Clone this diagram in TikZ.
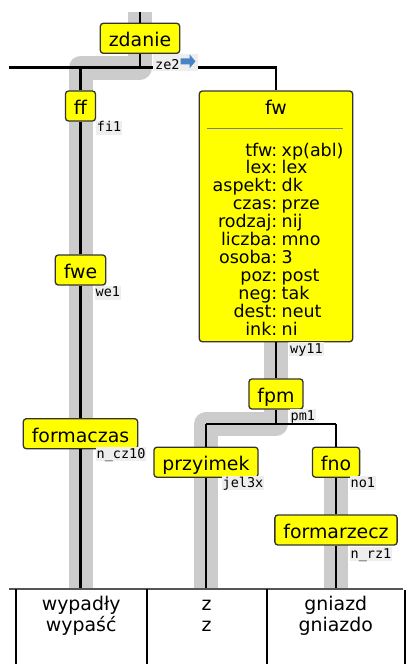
\documentclass[tikz,border=0pt]{standalone}
\usepackage{fontspec}
\setmainfont{DejaVu Sans}
\setmonofont{DejaVu Sans Mono}
\definecolor{hlgray}{RGB}{204,204,204}
\definecolor{boxy}{RGB}{255,255,0}
\definecolor{boxb}{RGB}{51,51,51}
\definecolor{sepc}{RGB}{120,130,160}
\definecolor{lblbg}{RGB}{238,238,238}
\definecolor{arrb}{RGB}{74,130,198}
\definecolor{tline}{RGB}{85,85,85}
\newcommand\tfont{\fontsize{18.9}{20}\selectfont}
\newcommand\ffont{\fontsize{17.5}{18}\selectfont}
\newcommand\lfont{\ttfamily\fontsize{13.5}{14}\selectfont}
\begin{document}
\begin{tikzpicture}[x=1pt,y=-1pt,
 band/.style={line width=24pt, draw=hlgray, line join=round},
 edge/.style={line width=2.4pt, draw=black},
 cat/.style={draw=boxb, fill=boxy, line width=1.3pt, rounded corners=3pt, font=\tfont, minimum height=30pt, inner ysep=0pt, inner xsep=8.5pt, text height=16.8pt, text depth=0pt},
 lbl/.style={font=\lfont, fill=lblbg, inner xsep=1pt, inner ysep=1pt, anchor=base west, text height=10pt, text depth=2pt},
 fk/.style={font=\ffont, anchor=base east, inner sep=0pt},
 fv/.style={font=\ffont, anchor=base west, inner sep=0pt},
 wd/.style={font=\tfont, anchor=base, inner sep=0pt},
 tab/.style={line width=2.2pt, draw=black}]
\useasboundingbox (0,0) rectangle (408,664);

% coordinates
\coordinate (top) at (140,12);
\coordinate (j1) at (140,67.5);
\coordinate (hl) at (9,67.5);
\coordinate (jff) at (80.5,67.5);
\coordinate (hr) at (276,67.5);
\coordinate (j2) at (276,424);
\coordinate (jp) at (206,424);
\coordinate (jn) at (336,424);
\coordinate (b1) at (80.5,589.3);
\coordinate (b2) at (206,589.3);
\coordinate (b3) at (336,589.3);

% highlight bands
\draw[band] (top) -- (j1) -- (jff) -- (b1);
\draw[band] (276,341.7) -- (j2) -- (jp) -- (b2);
\draw[band] (336,476.7) -- (b3);

% nodes
\node[cat] (zdanie) at (140,38.3) {zdanie};
\node[cat] (ff) at (80.5,106) {ff};
\node[cat] (fwe) at (80.5,270) {fwe};
\node[cat] (formaczas) at (80.5,433.7) {formaczas};
\node[draw=boxb, fill=boxy, line width=1.3pt, rounded corners=3pt, minimum width=153.4pt, minimum height=250.7pt, inner sep=0pt] (fw) at (276,216.35) {};
\node[cat] (fpm) at (276,394) {fpm};
\node[cat] (przyimek) at (206,462.2) {przyimek};
\node[cat] (fno) at (336,462.2) {fno};
\node[cat] (formarzecz) at (336,530) {formarzecz};

% edges
\draw[edge] (top) -- (zdanie.north);
\draw[edge] (zdanie.south) -- (j1);
\draw[edge] (hl) -- (hr) -- (fw.north);
\draw[edge] (jff) -- (ff.north);
\draw[edge] (ff.south) -- (fwe.north);
\draw[edge] (fwe.south) -- (formaczas.north);
\draw[edge] (formaczas.south) -- (b1);
\draw[edge] (fw.south) -- (fpm.north);
\draw[edge] (fpm.south) -- (j2);
\draw[edge] (jp) -- (jn);
\draw[edge] (jp) -- (przyimek.north);
\draw[edge] (jn) -- (fno.north);
\draw[edge] (przyimek.south) -- (b2);
\draw[edge] (fno.south) -- (formarzecz.north);
\draw[edge] (formarzecz.south) -- (b3);

% fw contents
\node[wd] (fwt) at (276,114) {fw};
\draw[sepc, line width=1.2pt] (207.3,128.3) -- (343.3,128.3);
\foreach \k/\v [count=\i from 0] in {tfw/xp(abl), lex/lex, aspekt/dk, czas/prze, rodzaj/nij, liczba/mno, osoba/3, poz/post, neg/tak, dest/neut, ink/ni}{
  \node[fk] at (277.5,{156+\i*17.93}) {\k:};
  \node[fv] at (281.5,{156+\i*17.93}) {\v};
}

% labels
\fill[lblbg] (153,54) rectangle (198,71);
\node[lbl, fill=none] (lze2) at (154,69) {ze2};
\fill[arrb] (180.7,58.3) -- (189.5,58.3) -- (189.5,54.3) -- (195.5,61.3) -- (189.5,68.3) -- (189.5,64.3) -- (180.7,64.3) -- cycle;
\node[lbl] (lfi1) at (95.7,131.7) {fi1};
\node[lbl] (lwe1) at (94.5,296.7) {we1};
\node[lbl] (lwy11) at (289,353) {wy11};
\node[lbl, text depth=1pt] (lpm1) at (289.5,420) {pm1};
\node[lbl] (lncz) at (95.5,458) {n\_cz10};
\node[lbl] (ljel) at (221.5,487) {jel3x};
\node[lbl] (lno1) at (349.5,487) {no1};
\node[lbl] (lnrz) at (349.5,558) {n\_rz1};

% bottom table
\draw[line width=2pt, draw=tline] (9,589.3) -- (403,589.3);
\draw[tab] (15.7,589.3) -- (15.7,664);
\draw[tab] (146.7,589.3) -- (146.7,664);
\draw[tab] (266.7,589.3) -- (266.7,664);
\draw[tab] (405,590) -- (405,664);
\node[wd] (w1a) at (81.2,610.7) {wypadły};
\node[wd] (w1b) at (81.2,631.7) {wypaść};
\node[wd] (w2a) at (206.7,610.7) {z};
\node[wd] (w2b) at (206.7,631.7) {z};
\node[wd] (w3a) at (335.8,610.7) {gniazd};
\node[wd] (w3b) at (335.8,631.7) {gniazdo};
\end{tikzpicture}
\end{document}
